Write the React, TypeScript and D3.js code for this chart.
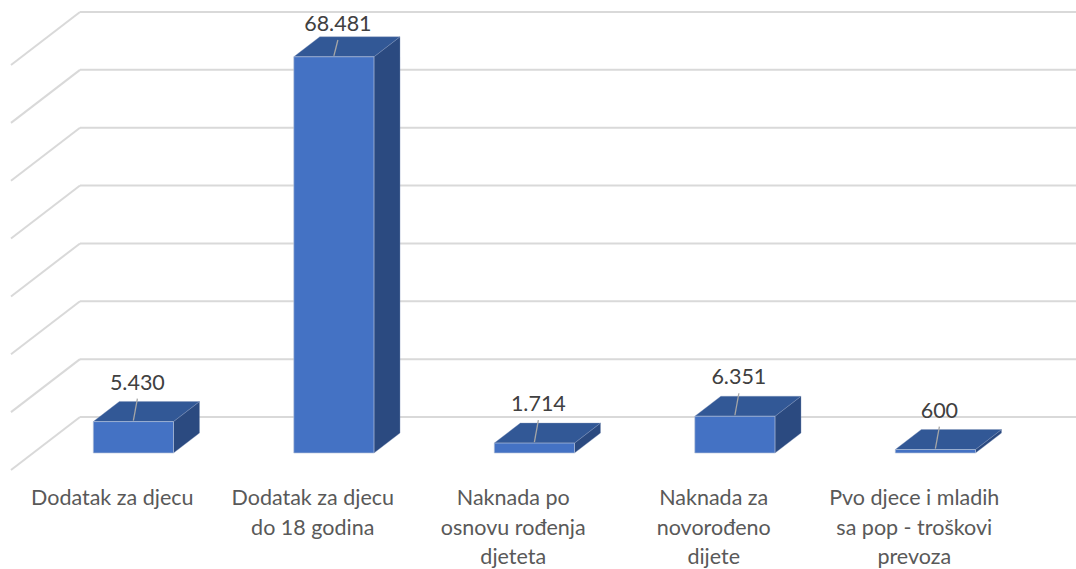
import * as d3 from "d3"

const categories = [
  "Dodatak za djecu",
  "Dodatak za djecu do 18 godina",
  "Naknada po osnovu rođenja djeteta",
  "Naknada za novorođeno dijete",
  "Pvo djece i mladih sa pop - troškovi prevoza",
]
const categoryLines = [
  ["Dodatak za djecu"],
  ["Dodatak za djecu", "do 18 godina"],
  ["Naknada po", "osnovu rođenja", "djeteta"],
  ["Naknada za", "novorođeno", "dijete"],
  ["Pvo djece i mladih", "sa pop - troškovi", "prevoza"],
]
const values = [5430, 68481, 1714, 6351, 600]
const tickValues = [0, 10000, 20000, 30000, 40000, 50000, 60000, 70000]

const W = 1076
const H = 569
const FONT = "Lato, 'Open Sans', sans-serif"

// oblique projection: depth measured in px of y offset, x shifts left
const SLANT = 69 / 53
const FLOOR_DEPTH = 53
const BAR_BACK = 16
const BAR_FRONT = 36

const fmt = d3.formatLocale({ decimal: ",", thousands: ".", grouping: [3], currency: ["", ""] }).format(",d")

function proj(x: number, y: number, d: number): [number, number] {
  return [x - d * SLANT, y + d]
}

function poly(pts: [number, number][]) {
  return pts.map((p) => p.join(",")).join(" ")
}

export default function App() {
  const x = d3.scaleBand<string>()
    .domain(categories)
    .range([80, 80 + 1002.5])
    .paddingInner(0.6)
    .paddingOuter(0.3)
  const y = d3.scaleLinear().domain([0, 70000]).range([417, 12])
  const y0 = y(0)
  const yTop = y(70000)

  return (
    <div style={{ position: "absolute", left: 0, top: 0 }}>
      <svg width={W} height={H} style={{ display: "block", background: "#fff" }}>
        {/* back wall + side gridlines */}
        <g stroke="#D9D9D9" strokeWidth={2} fill="none">
          {tickValues.map((t) => {
            const [fx, fy] = proj(80, y(t), FLOOR_DEPTH)
            return (
              <g key={t}>
                <line x1={80} x2={W + 10} y1={y(t)} y2={y(t)} />
                <line x1={80} y1={y(t)} x2={fx} y2={fy} />
              </g>
            )
          })}
        </g>

        {/* bars */}
        {categories.map((c, i) => {
          const x0 = x(c)!
          const x1 = x0 + x.bandwidth()
          const yt = y(values[i])
          const front = poly([proj(x0, y0, BAR_FRONT), proj(x1, y0, BAR_FRONT), proj(x1, yt, BAR_FRONT), proj(x0, yt, BAR_FRONT)])
          const top = poly([proj(x0, yt, BAR_FRONT), proj(x1, yt, BAR_FRONT), proj(x1, yt, BAR_BACK), proj(x0, yt, BAR_BACK)])
          const side = poly([proj(x1, y0, BAR_FRONT), proj(x1, yt, BAR_FRONT), proj(x1, yt, BAR_BACK), proj(x1, y0, BAR_BACK)])
          const [fcx, fty] = proj(x0 + x.bandwidth() / 2, yt, BAR_FRONT)
          const lx = fcx + 4
          // keep the label under the top gridline
          const ly = Math.max(fty - 32, yTop + 19)
          return (
            <g key={c}>
              <polygon points={side} fill="#2B4A80" stroke="#7f93b8" strokeWidth={0.6} strokeOpacity={0.6} />
              <polygon points={top} fill="#325896" stroke="#7f93b8" strokeWidth={0.6} strokeOpacity={0.6} />
              <polygon points={front} fill="#4472C4" stroke="#b7c3da" strokeWidth={0.8} strokeOpacity={0.8} />
              <line x1={lx} y1={Math.min(ly + 9, fty - 14)} x2={fcx} y2={fty - 1} stroke="#A6A6A6" strokeWidth={1.3} />
              <text x={lx} y={ly} textAnchor="middle" fontFamily={FONT} fontSize={21.5} fill="#404040">
                {fmt(values[i])}
              </text>
            </g>
          )
        })}

        {/* category labels along the front floor edge */}
        {categories.map((c, i) => {
          const [cx] = proj(x(c)! + x.bandwidth() / 2, y0, FLOOR_DEPTH)
          return (
            <text key={c} textAnchor="middle" fontFamily={FONT} fontSize={21.5} fill="#595959">
              {categoryLines[i].map((ln, j) => (
                <tspan key={j} x={cx + 1} y={505 + j * 29.5}>{ln}</tspan>
              ))}
            </text>
          )
        })}
      </svg>
    </div>
  )
}
